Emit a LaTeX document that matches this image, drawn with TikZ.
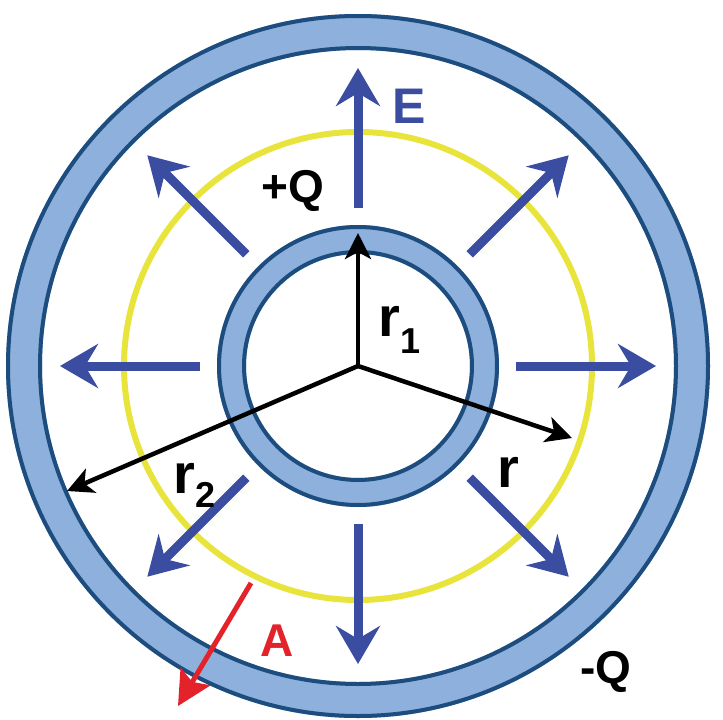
\documentclass[tikz,border=0pt]{standalone}
\usepackage{fontspec}
\setmainfont{Liberation Sans}
\usetikzlibrary{arrows.meta}
\definecolor{ringfill}{HTML}{8DB1DC}
\definecolor{ringline}{HTML}{1D4C7E}
\definecolor{efield}{HTML}{3A4DA0}
\definecolor{gauss}{HTML}{E8E43C}
\definecolor{areacol}{HTML}{E32229}
\tikzset{
  ringband/.style={fill=ringfill,even odd rule},
  ringedge/.style={draw=ringline,line width=4pt},
  efarrow/.style={draw=efield,line width=9pt,-{Stealth[length=38pt,width=44pt,inset=13pt]}},
  radarrow/.style={draw=black,line width=4.5pt,-{Stealth[length=26pt,width=26pt,inset=7pt]}},
  areaarrow/.style={draw=areacol,line width=5pt,-{Stealth[length=34pt,width=34pt,inset=6pt]}},
  lbl/.style={inner sep=0pt,font=\bfseries\fontsize{46}{46}\selectfont},
  rlbl/.style={inner sep=0pt,font=\bfseries\fontsize{56}{56}\selectfont},
  sublbl/.style={inner sep=0pt,font=\bfseries\fontsize{36}{36}\selectfont}
}
\begin{document}
\begin{tikzpicture}[x=1pt,y=-1pt]
\useasboundingbox (0,0) rectangle (723,720);
\fill[white] (0,0) rectangle (723,720);
\coordinate (O) at (358,366);
% outer conducting shell
\fill[ringband] (O) circle[radius=352] (O) circle[radius=316];
\draw[ringedge] (O) circle[radius=350] (O) circle[radius=318];
% Gaussian surface
\draw[gauss,line width=6pt] (O) circle[radius=234];
% inner conductor
\fill[ringband] (O) circle[radius=141] (O) circle[radius=112];
\draw[ringedge] (O) circle[radius=139] (O) circle[radius=114];
% field arrows
\foreach \a in {0,45,...,315}{
  \coordinate (s\a) at ([shift={(\a:158)}]O);
  \coordinate (e\a) at ([shift={(\a:298)}]O);
  \draw[efarrow] (s\a) -- (e\a);
}
% radii
\coordinate (r1tip) at (358,233);
\coordinate (rtip) at (572,438);
\coordinate (r2tip) at (67,491);
\draw[radarrow] (O) -- (r1tip);
\draw[radarrow] (O) -- (rtip);
\draw[radarrow] (O) -- (r2tip);
% area vector
\coordinate (as) at (251,583);
\coordinate (ae) at (178,706);
\draw[areaarrow] (as) -- (ae);
% labels
\node[lbl,text=efield,font=\bfseries\fontsize{50}{50}\selectfont] (lE) at (409,106) {E};
\node[lbl] (lpQ) at (293,191) {+Q};
\node[lbl] (lmQ) at (606,672) {-Q};
\node[lbl,text=areacol] (lA) at (277,641) {A};
\node[rlbl] (lr1) at (389,321) {r};
\node[sublbl] (l1) at (411,341) {1};
\node[rlbl] (lr) at (508,472) {r};
\node[rlbl] (lr2) at (184,478) {r};
\node[sublbl] (l2) at (206,495) {2};
\end{tikzpicture}
\end{document}
